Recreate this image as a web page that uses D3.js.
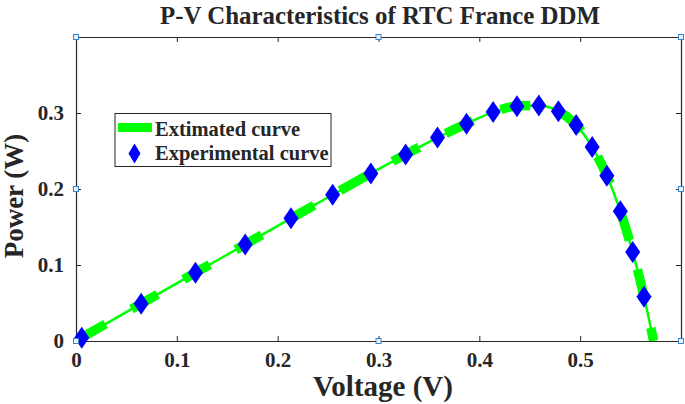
<!DOCTYPE html>
<html><head><meta charset="utf-8">
<script src="https://cdn.jsdelivr.net/npm/d3@7"></script>
<style>
html,body{margin:0;padding:0;background:#fff;}
text{font-family:"Liberation Serif","Times New Roman",serif;font-weight:bold;fill:#262626;}
</style></head>
<body><svg id="c" width="685" height="404"></svg>
<script>
// Experimental data (RTC France P-V)
const expV = [0.0057,0.0646,0.1185,0.1678,0.2132,0.2545,0.2924,0.3269,0.3585,0.3873,0.4137,0.4373,0.4590,0.4784,0.4960,0.5119,0.5265,0.5398,0.5521,0.5633];
const expP = [0.0043,0.0491,0.0899,0.1270,0.1614,0.1923,0.2205,0.2453,0.2676,0.2860,0.3012,0.3090,0.3100,0.3023,0.2842,0.2554,0.2174,0.1708,0.1170,0.0583];
// Estimated curve (DDM)
const estV = [0,0.0057,0.0646,0.1185,0.1678,0.2132,0.2545,0.2924,0.3269,0.3585,0.3873,0.4137,0.4373,0.4590,0.4784,0.4960,0.5119,0.5265,0.5398,0.5521,0.5633,0.5728];
const estP = [0,0.0044,0.0491,0.0900,0.1271,0.1614,0.1924,0.2206,0.2455,0.2676,0.2860,0.3012,0.3092,0.3099,0.3024,0.2843,0.2552,0.2173,0.1708,0.1171,0.0586,0.0];
const xTicks = [0,0.1,0.2,0.3,0.4,0.5,0.6];
const xTickLabels = ["0","0.1","0.2","0.3","0.4","0.5",""];
const yTicks = [0,0.1,0.2,0.3,0.4];
const yTickLabels = ["0","0.1","0.2","0.3",""];
const titleText = "P-V Characteristics of RTC France DDM";
const xLabel = "Voltage (V)";
const yLabel = "Power (W)";
const legendLabels = ["Extimated curve","Experimental curve"];

const svg = d3.select("#c");
const L=76, T=37, R=681, B=341;
const x = d3.scaleLinear().domain([0,0.6]).range([L,R]);
const y = d3.scaleLinear().domain([0,0.4]).range([B,T]);
const axCol = "#262626";

svg.append("defs").append("clipPath").attr("id","clip")
  .append("rect").attr("x",L).attr("y",T).attr("width",R-L).attr("height",B-T);

// axes box with inward ticks
const ax = svg.append("g");
ax.append("g").attr("transform",`translate(0,${B})`)
  .call(d3.axisBottom(x).tickValues(xTicks).tickSizeInner(-5).tickSizeOuter(0).tickPadding(11).tickFormat((d,i)=>xTickLabels[i]));
ax.append("g").attr("transform",`translate(0,${T})`)
  .call(d3.axisTop(x).tickValues(xTicks).tickSizeInner(-5).tickSizeOuter(0).tickFormat(""));
ax.append("g").attr("transform",`translate(${L},0)`)
  .call(d3.axisLeft(y).tickValues(yTicks).tickSizeInner(-5).tickSizeOuter(0).tickPadding(12).tickFormat((d,i)=>yTickLabels[i]));
ax.append("g").attr("transform",`translate(${R},0)`)
  .call(d3.axisRight(y).tickValues(yTicks).tickSizeInner(-5).tickSizeOuter(0).tickFormat(""));
ax.selectAll(".domain").attr("stroke",axCol).attr("stroke-width",1.2);
ax.selectAll(".tick line").attr("stroke",axCol).attr("stroke-width",1);
ax.selectAll(".tick text").attr("font-size",21).attr("fill","#262626")
  .style("font-family","'Liberation Serif',serif").style("font-weight","bold");

// curves
const plot = svg.append("g").attr("clip-path","url(#clip)");
const est = estV.map((v,i)=>[v,estP[i]]);
const line = d3.line().x(d=>x(d[0])).y(d=>y(d[1])).curve(d3.curveMonotoneX);
plot.append("path").attr("d",line(est)).attr("fill","none")
  .attr("stroke","#00ff00").attr("stroke-width",2.5);
plot.append("path").attr("d",line(est)).attr("fill","none")
  .attr("stroke","#00ff00").attr("stroke-width",9.5).attr("stroke-dasharray","30,30").attr("stroke-dashoffset",-4);

// markers
const dw=7.5, dh=11;
const diamond = `M0,${-dh}L${dw},0L0,${dh}L${-dw},0Z`;
svg.append("g").selectAll("path").data(expV).join("path")
  .attr("d",diamond).attr("transform",(d,i)=>`translate(${x(d)},${y(expP[i])})`)
  .attr("fill","#0000ff");

// legend
const lg = svg.append("g");
lg.append("rect").attr("x",115).attr("y",113.5).attr("width",216).attr("height",53)
  .attr("fill","#fff").attr("stroke",axCol).attr("stroke-width",1);
lg.append("line").attr("x1",118).attr("x2",152).attr("y1",127.5).attr("y2",127.5)
  .attr("stroke","#00ff00").attr("stroke-width",9);
lg.append("path").attr("d","M0,-10L6,0L0,10L-6,0Z").attr("transform","translate(134.5,153.5)").attr("fill","#0000ff");
lg.selectAll("text").data(legendLabels).join("text")
  .attr("x",155).attr("y",(d,i)=>135.5+i*24.5).attr("font-size",20.5).attr("fill","#000").text(d=>d);

// selection handles
const handles = [[L,T],[(L+R)/2,T],[R,T],[L,(T+B)/2],[R,(T+B)/2],[L,B],[(L+R)/2,B],[R,B]];
svg.append("g").selectAll("rect").data(handles).join("rect")
  .attr("x",d=>d[0]-2.5).attr("y",d=>d[1]-2.5).attr("width",5).attr("height",5)
  .attr("fill","#e8f2fb").attr("stroke","#3c84c8").attr("stroke-width",1);

// titles
svg.append("text").attr("x",380).attr("y",24).attr("text-anchor","middle").attr("font-size",25)
  .attr("textLength",440).attr("lengthAdjust","spacingAndGlyphs")
  .attr("fill","#000").text(titleText);
svg.append("text").attr("x",383).attr("y",396).attr("text-anchor","middle").attr("font-size",29)
  .attr("fill","#262626").text(xLabel);
svg.append("text").attr("transform","translate(23,196) rotate(-90)").attr("text-anchor","middle").attr("font-size",27)
  .attr("fill","#262626").text(yLabel);
</script></body></html>
